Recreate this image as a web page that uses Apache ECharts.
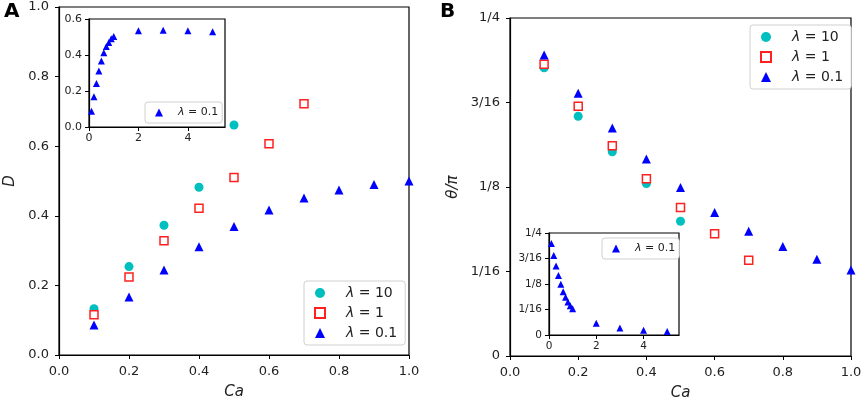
<!DOCTYPE html>
<html lang="en">
<head>
    <meta charset="UTF-8">
    <script src="https://cdn.jsdelivr.net/npm/echarts@6/dist/echarts.min.js"></script>
    <title>D and theta vs Ca</title>
    <style>
        html, body { margin: 0; padding: 0; background: #fff; }
        #main { width: 865px; height: 400px; }
    </style>
</head>
<body>
<div id="main"></div>
<script>
    // panel A: deformation D vs Ca
    var caA10 = [0.1, 0.2, 0.3, 0.4, 0.5];
    var dA10 = [0.133, 0.254, 0.373, 0.482, 0.661];
    var caA1 = [0.1, 0.2, 0.3, 0.4, 0.5, 0.6, 0.7];
    var dA1 = [0.116, 0.224, 0.328, 0.422, 0.510, 0.607, 0.722];
    var caA01 = [0.1, 0.2, 0.3, 0.4, 0.5, 0.6, 0.7, 0.8, 0.9, 1.0];
    var dA01 = [0.086, 0.167, 0.244, 0.311, 0.369, 0.417, 0.451, 0.474, 0.490, 0.500];
    // inset A: lambda = 0.1 over wider Ca
    var caInA = [0.1, 0.2, 0.3, 0.4, 0.5, 0.6, 0.7, 0.8, 0.9, 1.0, 2, 3, 4, 5];
    var dInA = [0.088, 0.168, 0.242, 0.311, 0.367, 0.413, 0.447, 0.469, 0.490, 0.503, 0.535, 0.538, 0.535, 0.529];

    // panel B: orientation theta/pi vs Ca
    var caB10 = [0.1, 0.2, 0.3, 0.4, 0.5];
    var tB10 = [0.2132, 0.1773, 0.1511, 0.1276, 0.0997];
    var caB1 = [0.1, 0.2, 0.3, 0.4, 0.5, 0.6, 0.7];
    var tB1 = [0.2157, 0.1847, 0.1556, 0.1311, 0.1098, 0.0905, 0.0708];
    var caB01 = [0.1, 0.2, 0.3, 0.4, 0.5, 0.6, 0.7, 0.8, 0.9, 1.0];
    var tB01 = [0.2226, 0.1944, 0.1687, 0.1457, 0.1246, 0.1061, 0.0923, 0.0809, 0.0715, 0.0636];
    // inset B
    var caInB = [0.1, 0.2, 0.3, 0.4, 0.5, 0.6, 0.7, 0.8, 0.9, 1.0, 2, 3, 4, 5];
    var tInB = [0.2240, 0.1950, 0.1690, 0.1457, 0.1246, 0.1061, 0.0923, 0.0809, 0.0715, 0.0643, 0.0286, 0.0171, 0.0115, 0.0083];

    var thetaTicks = {0: '0', 0.0625: '1/16', 0.125: '1/8', 0.1875: '3/16', 0.25: '1/4'};

    function pairs(xs, ys) {
        var out = [];
        for (var i = 0; i < xs.length; i++) {
            out.push([xs[i], ys[i]]);
        }
        return out;
    }

    var FONT = 'DejaVu Sans';
    var CYAN = '#00bfbf', RED = '#ff2020', BLUE = '#0000ff';

    function axisBase(fs, margin) {
        return {
            axisLine: {show: true, onZero: false, lineStyle: {color: '#000', width: 1.2}},
            axisTick: {show: true, length: 4, lineStyle: {color: '#000', width: 1}},
            axisLabel: {color: '#222', fontFamily: FONT, fontSize: fs, margin: margin},
            splitLine: {show: false}
        };
    }

    function mkX(grid, min, max, interval, fs, margin, name, gap) {
        var a = axisBase(fs, margin);
        a.type = 'value';
        a.gridIndex = grid;
        a.min = min;
        a.max = max;
        a.interval = interval;
        if (max === 5.5) {
            a.axisLabel.showMaxLabel = false;
        } else {
            a.axisLabel.formatter = function (v) { return v.toFixed(1); };
        }
        if (name) {
            a.name = name;
            a.nameLocation = 'middle';
            a.nameGap = gap;
            a.nameTextStyle = {fontFamily: FONT, fontSize: 15, fontStyle: 'italic', color: '#222'};
        }
        return a;
    }

    function mkY(grid, min, max, interval, fs, margin, fmt, name, gap) {
        var a = axisBase(fs, margin);
        a.type = 'value';
        a.gridIndex = grid;
        a.min = min;
        a.max = max;
        a.interval = interval;
        a.axisLabel.formatter = fmt;
        if (name) {
            a.name = name;
            a.nameLocation = 'middle';
            a.nameGap = gap;
            a.nameTextStyle = {fontFamily: FONT, fontSize: 15, fontStyle: 'italic', color: '#222'};
        }
        return a;
    }

    var fmt1 = function (v) { return v.toFixed(1); };
    var fmtTheta = function (v) { return thetaTicks[v] !== undefined ? thetaTicks[v] : ''; };

    function circleS(name, data, x, y) {
        return {name: name, type: 'scatter', xAxisIndex: x, yAxisIndex: y, data: data,
            symbol: 'circle', symbolSize: 9, itemStyle: {color: CYAN, opacity: 1}};
    }
    function squareS(name, data, x, y) {
        return {name: name, type: 'scatter', xAxisIndex: x, yAxisIndex: y, data: data,
            symbol: 'rect', symbolSize: 8, z: 3,
            itemStyle: {color: '#fff', borderColor: RED, borderWidth: 1.5, opacity: 1}};
    }
    function triS(name, data, x, y, size) {
        return {name: name, type: 'scatter', xAxisIndex: x, yAxisIndex: y, data: data,
            symbol: 'triangle', symbolSize: size, z: 4, itemStyle: {color: BLUE, opacity: 1}};
    }

    var legendText = {fontFamily: FONT, fontSize: 14, color: '#222',
        rich: {l: {fontFamily: FONT, fontSize: 14, fontStyle: 'italic', padding: [0, 0, 0, 16]},
               v: {fontFamily: FONT, fontSize: 14}}};
    var legendTextSmall = {fontFamily: FONT, fontSize: 11, color: '#222',
        rich: {l: {fontFamily: FONT, fontSize: 11, fontStyle: 'italic', padding: [0, 0, 0, 10]},
               v: {fontFamily: FONT, fontSize: 11}}};
    var legendFmt = function (name) {
        return '{l|λ}{v| = ' + name.split('=')[1].trim() + '}';
    };

    function mkLegend(left, top, names, small) {
        return {
            orient: 'vertical', left: left, top: top,
            data: names, formatter: legendFmt,
            textStyle: small ? legendTextSmall : legendText,
            itemWidth: small ? 8 : 10, itemHeight: small ? 8 : 10,
            itemGap: small ? 0 : 6,
            padding: small ? [5, 4, 5, 10] : [5, 8, 5, 10],
            backgroundColor: '#fff', borderColor: '#d0d0d0', borderWidth: 1, borderRadius: 3,
            selectedMode: false
        };
    }

    var myChart = echarts.init(document.getElementById('main'), null, {renderer: 'canvas'});

    // fixed plot boxes: do not let the grid shrink to keep names inside
    var gridStyle = {show: true, borderColor: '#000', borderWidth: 1.2, backgroundColor: '#fff',
        containLabel: false, outerBoundsMode: 'none'};

    var option = {
        backgroundColor: '#fff',
        animation: false,
        grid: [
            Object.assign({left: 59, top: 7, width: 350, height: 348}, gridStyle),
            Object.assign({left: 89, top: 19, width: 136, height: 108}, gridStyle),
            Object.assign({left: 510, top: 18, width: 341, height: 338}, gridStyle),
            Object.assign({left: 549, top: 233, width: 130, height: 102}, gridStyle)
        ],
        xAxis: [
            mkX(0, 0, 1, 0.2, 13, 10, 'Ca', 30),
            mkX(1, 0, 5.5, 2, 11, 6),
            mkX(2, 0, 1, 0.2, 13, 10, 'Ca', 30),
            mkX(3, 0, 5.5, 2, 10.5, 6)
        ],
        yAxis: [
            mkY(0, 0, 1, 0.2, 13, 10, fmt1, 'D', 41),
            mkY(1, 0, 0.6, 0.2, 11, 7, fmt1),
            mkY(2, 0, 0.25, 0.0625, 13, 10, fmtTheta, 'θ/π', 49),
            mkY(3, 0, 0.25, 0.0625, 10.5, 7, fmtTheta)
        ],
        legend: [
            mkLegend(304, 281, ['λ = 10', 'λ = 1', 'λ = 0.1']),
            mkLegend(145, 102, ['λ = 0.1'], true),
            mkLegend(750, 25, ['λ = 10', 'λ = 1', 'λ = 0.1']),
            mkLegend(602, 238, ['λ = 0.1'], true)
        ],
        graphic: [
            {type: 'text', left: 4, top: 2, style: {text: 'A', font: 'bold 20px "DejaVu Sans"', fill: '#000'}},
            {type: 'text', left: 440, top: 2, style: {text: 'B', font: 'bold 20px "DejaVu Sans"', fill: '#000'}}
        ],
        series: [
            circleS('λ = 10', pairs(caA10, dA10), 0, 0),
            squareS('λ = 1', pairs(caA1, dA1), 0, 0),
            triS('λ = 0.1', pairs(caA01, dA01), 0, 0, 9),
            triS('λ = 0.1', pairs(caInA, dInA), 1, 1, 7),
            circleS('λ = 10', pairs(caB10, tB10), 2, 2),
            squareS('λ = 1', pairs(caB1, tB1), 2, 2),
            triS('λ = 0.1', pairs(caB01, tB01), 2, 2, 9),
            triS('λ = 0.1', pairs(caInB, tInB), 3, 3, 7)
        ]
    };

    myChart.setOption(option);
</script>
</body>
</html>
